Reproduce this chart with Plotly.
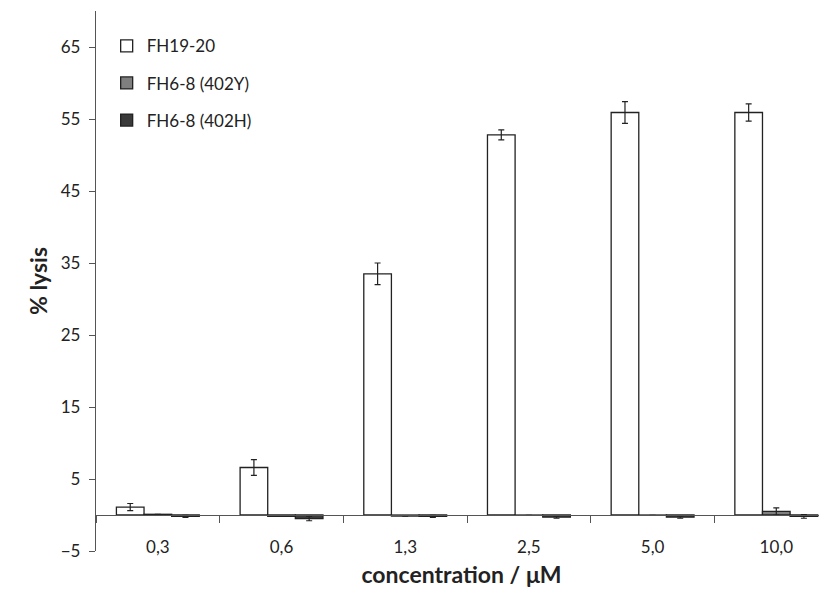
import plotly.graph_objects as go

categories = ["0,3", "0,6", "1,3", "2,5", "5,0", "10,0"]
series_names = ["FH19-20", "FH6-8 (402Y)", "FH6-8 (402H)"]
fh1920 = [1.1, 6.6, 33.5, 52.8, 55.9, 55.9]
fh1920_err = [0.5, 1.1, 1.5, 0.7, 1.5, 1.2]
fh402y = [0.1, -0.2, -0.15, -0.05, -0.05, 0.5]
fh402y_err = [0.0, 0.0, 0.0, 0.0, 0.0, 0.5]
fh402h = [-0.2, -0.5, -0.2, -0.3, -0.3, -0.2]
fh402h_err = [0.15, 0.3, 0.15, 0.15, 0.15, 0.25]
y_ticks = [-5, 5, 15, 25, 35, 45, 55, 65]

colors = ["#ffffff", "#7f7f7f", "#3a3a3a"]
vals = [fh1920, fh402y, fh402h]
errs = [fh1920_err, fh402y_err, fh402h_err]

FONT = "Lato, Open Sans, sans-serif"
fig = go.Figure()
for i, name in enumerate(series_names):
    fig.add_trace(go.Bar(
        x=categories, y=vals[i], name=name, legendgroup=name,
        marker=dict(color=colors[i], line=dict(color="#222222", width=1.3)),
        error_y=dict(type="data", array=errs[i], visible=True,
                     color="#222222", thickness=1.2, width=3),
    ))

fig.update_layout(
    width=819, height=592,
    margin=dict(l=88, r=0, t=3, b=49),
    paper_bgcolor="white", plot_bgcolor="white",
    barmode="group", bargap=0.33, bargroupgap=0,
    font=dict(family=FONT, size=17, color="#222222"),
    legend=dict(x=0.0146, y=0.968, xanchor="left", yanchor="top",
                font=dict(size=17, family=FONT, color="#222222"),
                tracegroupgap=12, bgcolor="rgba(0,0,0,0)", itemwidth=30),
    showlegend=True,
    xaxis=dict(
        type="category", range=[-0.5, 5.41],
        anchor="free", position=5/75,
        showline=True, linecolor="#555555", linewidth=1.3,
        ticks="outside", tickson="boundaries", ticklen=7, tickcolor="#555555",
        ticklabelstandoff=16, showgrid=False,
        tickfont=dict(size=17, family=FONT, color="#222222"),
        title=dict(text="<b>concentration / μM</b>", font=dict(size=23, family=FONT, color="#222222"), standoff=11),
    ),
    yaxis=dict(
        range=[-5, 70], tickvals=y_ticks,
        showline=True, linecolor="#555555", linewidth=1.3,
        ticks="outside", ticklen=6, tickcolor="#555555",
        ticklabelstandoff=5,
        showgrid=False, zeroline=False,
        tickfont=dict(size=17, family=FONT, color="#222222"),
        title=dict(text="<b>% lysis</b>", font=dict(size=23, family=FONT, color="#222222"), standoff=6),
    ),
)

fig.write_html("out.html")
